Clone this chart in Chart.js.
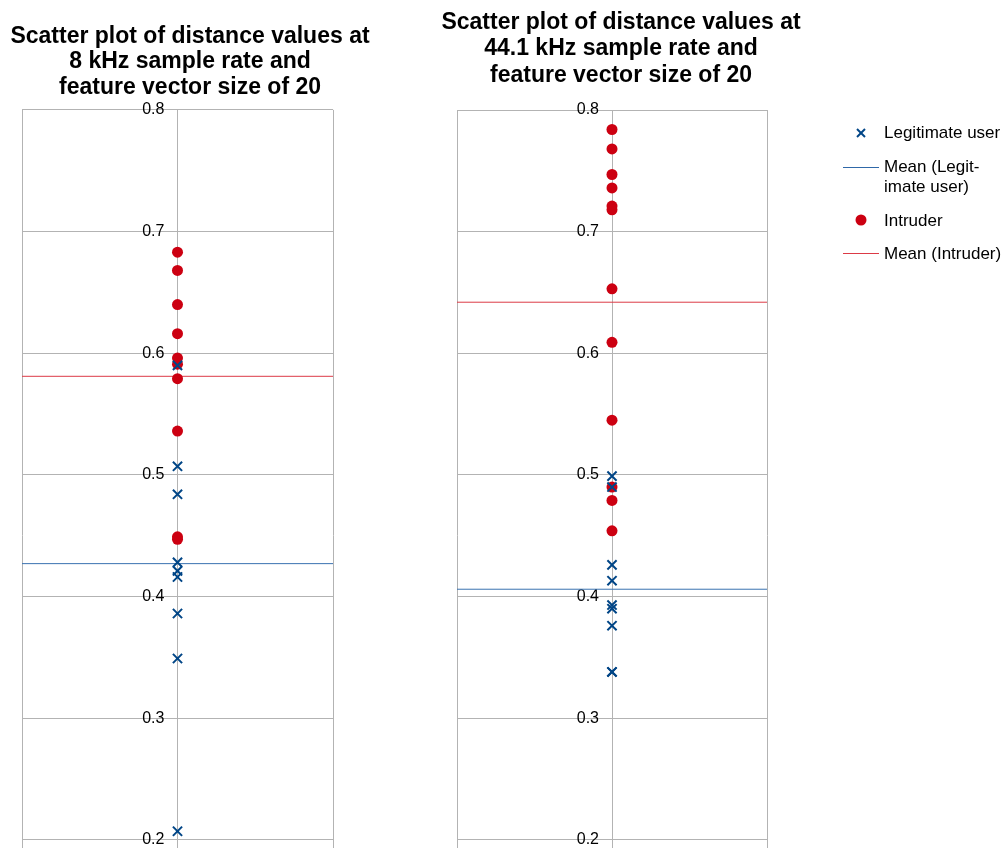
<!DOCTYPE html>
<html>
<head>
<meta charset="utf-8">
<script src="https://cdn.jsdelivr.net/npm/chart.js@4/dist/chart.umd.min.js"></script>
<style>
  html, body { margin: 0; padding: 0; background: #ffffff; }
  body { width: 1004px; height: 848px; overflow: hidden; position: relative; font-family: Arial, 'Liberation Sans', sans-serif; }
  canvas { position: absolute; top: 0; }
  #c8 { left: 0px; }
  #c44 { left: 437px; }
  .legend { position: absolute; left: 0; top: 0; }
  .lg-line { position: absolute; left: 843px; width: 36px; height: 1px; }
  .lg-text { position: absolute; left: 884px; font-size: 17px; line-height: 20px; color: #000; white-space: nowrap; }
</style>
</head>
<body>
<canvas id="c8" width="380" height="974"></canvas>
<canvas id="c44" width="368" height="974"></canvas>

<svg class="legend" width="1004" height="300">
  <line x1="857" y1="129" x2="865" y2="137" stroke="#004586" stroke-width="2"/>
  <line x1="857" y1="137" x2="865" y2="129" stroke="#004586" stroke-width="2"/>
  <circle cx="861" cy="220" r="5.5" fill="#cc0011"/>
</svg>
<div class="lg-line" style="top:167px; background:#2f68a8"></div>
<div class="lg-line" style="top:253px; background:#dc3a46"></div>
<div class="lg-text" style="top:123px">Legitimate user</div>
<div class="lg-text" style="top:157px">Mean (Legit-<br>imate user)</div>
<div class="lg-text" style="top:211px">Intruder</div>
<div class="lg-text" style="top:244px">Mean (Intruder)</div>

<script>
// Distance values, 8 kHz sample rate, feature vector size 20
const legit8 = [0.590, 0.507, 0.484, 0.428, 0.421, 0.416, 0.386, 0.349, 0.207];
const intruder8 = [0.683, 0.668, 0.640, 0.616, 0.596, 0.591, 0.579, 0.536, 0.449, 0.447];
const meanLegit8 = 0.427;
const meanIntruder8 = 0.581;

// Distance values, 44.1 kHz sample rate, feature vector size 20
const legit44 = [0.499, 0.490, 0.426, 0.413, 0.393, 0.390, 0.376, 0.338, 0.338];
const intruder44 = [0.784, 0.768, 0.747, 0.736, 0.721, 0.718, 0.653, 0.609, 0.545, 0.490, 0.479, 0.454];
const meanLegit44 = 0.406;
const meanIntruder44 = 0.642;

const title8 = ['Scatter plot of distance values at', '8 kHz sample rate and', 'feature vector size of 20'];
const title44 = ['Scatter plot of distance values at', '44.1 kHz sample rate and', 'feature vector size of 20'];

const FONT = "Arial, 'Liberation Sans', sans-serif";
const BLUE = '#004586';
const RED = '#cc0011';
const GRID = '#b3b3b3';

function points(values) {
  return values.map(v => ({ x: 0, y: v }));
}
function meanLine(m) {
  return [{ x: -1, y: m }, { x: 1, y: m }];
}

// invisible axis that only reserves horizontal room beside the plot
function spacerAxis(side, width) {
  return {
    type: 'linear', position: side, axis: 'y',
    ticks: { display: false },
    grid: { display: false },
    border: { display: false },
    afterFit: s => { s.width = width; }
  };
}

function makeChart(id, cfg) {
  return new Chart(document.getElementById(id), {
    type: 'scatter',
    data: {
      datasets: [
        { label: 'Legitimate user', data: points(cfg.legit), order: 0,
          pointStyle: 'crossRot', pointRadius: 6.5, pointHoverRadius: 6.5,
          borderColor: BLUE, backgroundColor: BLUE, pointBorderWidth: 2 },
        { label: 'Mean (Legitimate user)', type: 'line', data: meanLine(cfg.meanLegit), order: 2,
          borderColor: '#3a72b0', borderWidth: 1, pointRadius: 0, fill: false },
        { label: 'Intruder', data: points(cfg.intruder), order: 1,
          pointStyle: 'circle', pointRadius: 5.5, pointHoverRadius: 5.5,
          borderColor: RED, backgroundColor: RED, pointBorderWidth: 0 },
        { label: 'Mean (Intruder)', type: 'line', data: meanLine(cfg.meanIntruder), order: 3,
          borderColor: '#dc3a46', borderWidth: 1, pointRadius: 0, fill: false }
      ]
    },
    options: {
      responsive: false,
      animation: false,
      events: [],
      layout: { padding: 0 },
      plugins: {
        legend: { display: false },
        tooltip: { enabled: false },
        title: {
          display: true,
          text: cfg.title,
          color: '#000000',
          font: { family: FONT, size: 23, weight: 'bold', lineHeight: cfg.titleLine },
          padding: { top: cfg.titleTop, bottom: cfg.titleBottom }
        }
      },
      scales: {
        x: {
          type: 'linear', position: 'bottom', min: -1, max: 1,
          ticks: { display: false, stepSize: 1 },
          grid: { color: GRID, lineWidth: 1, drawTicks: false },
          border: { display: false },
          afterFit: s => { s.height = 0; }
        },
        y: {
          // labels sit just left of the centre gridline
          type: 'linear', position: { x: -0.084 }, min: 0.1, max: 0.8,
          ticks: {
            stepSize: 0.1, color: '#000000',
            font: { family: FONT, size: 16 },
            callback: v => Number(v).toFixed(1)
          },
          grid: { color: GRID, lineWidth: 1, drawTicks: false },
          border: { display: false }
        },
        padL: spacerAxis('left', cfg.spaceLeft),
        padR: spacerAxis('right', cfg.spaceRight)
      }
    }
  });
}

makeChart('c8', {
  legit: legit8, intruder: intruder8, meanLegit: meanLegit8, meanIntruder: meanIntruder8,
  title: title8, spaceLeft: 22, spaceRight: 47, titleLine: 1.1, titleTop: 24, titleBottom: 10
});
makeChart('c44', {
  legit: legit44, intruder: intruder44, meanLegit: meanLegit44, meanIntruder: meanIntruder44,
  title: title44, spaceLeft: 20, spaceRight: 38, titleLine: 1.16, titleTop: 9, titleBottom: 21
});
</script>
</body>
</html>
